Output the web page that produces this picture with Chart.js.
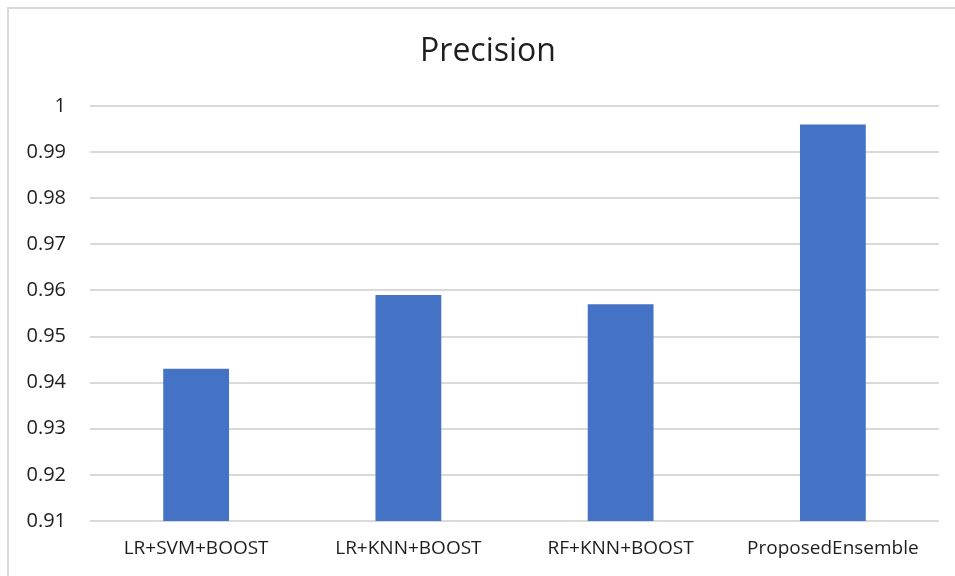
<!DOCTYPE html>
<html>
<head>
<meta charset="utf-8">
<script src="https://cdn.jsdelivr.net/npm/chart.js@4"></script>
<style>
  html, body { margin: 0; padding: 0; background: #fff; overflow: hidden; }
  #wrap { position: relative; width: 955px; height: 576px; }
  #frame {
    position: absolute; left: 7px; top: 7px; width: 962px; height: 580px;
    border: 2px solid #d9d9d9; box-sizing: border-box;
  }
  canvas { position: absolute; left: 0; top: 0; }
</style>
</head>
<body>
<div id="wrap">
  <div id="frame"></div>
  <canvas id="chart" width="955" height="576"></canvas>
</div>
<script>
  // Precision per model combination
  const models = ["LR+SVM+BOOST", "LR+KNN+BOOST", "RF+KNN+BOOST", "ProposedEnsemble"];
  const precision = [0.943, 0.959, 0.957, 0.996];
  const yMin = 0.91;
  const yMax = 1;
  const yStep = 0.01;

  const titleText = "Precision";
  const textColor = "#1e1e1e";
  const gridColor = "#d9d9d9";
  const fontFamily = "'Open Sans', 'Noto Sans', sans-serif";

  // title is centred on the framed box, not on the canvas
  const frameTitle = {
    id: "frameTitle",
    afterDraw(chart) {
      const c = chart.ctx;
      c.save();
      c.fillStyle = textColor;
      c.font = "32px " + fontFamily;
      c.textAlign = "center";
      c.textBaseline = "middle";
      c.fillText(titleText, 488, 52);
      c.restore();
    }
  };

  const ctx = document.getElementById("chart").getContext("2d");

  new Chart(ctx, {
    type: "bar",
    data: {
      labels: models,
      datasets: [
        {
          label: titleText,
          data: precision,
          backgroundColor: "#4472C4",
          barPercentage: 0.62,
          categoryPercentage: 0.5
        }
      ]
    },
    options: {
      responsive: false,
      animation: false,
      layout: { padding: { left: 0, right: 16, top: 106, bottom: 0 } },
      plugins: {
        legend: { display: false },
        tooltip: { enabled: false },
        title: { display: false }
      },
      scales: {
        x: {
          grid: { display: false, drawTicks: false },
          border: { display: false },
          ticks: {
            color: textColor,
            padding: 16,
            maxRotation: 0,
            font: { family: fontFamily, size: 19 }
          },
          afterFit: (scale) => { scale.height = 55; }
        },
        y: {
          min: yMin,
          max: yMax,
          grid: { color: gridColor, lineWidth: 2, drawTicks: false },
          border: { display: false },
          ticks: {
            stepSize: yStep,
            color: textColor,
            padding: 24,
            font: { family: fontFamily, size: 20 },
            callback: (v) => parseFloat(v.toFixed(2)).toString()
          },
          afterFit: (scale) => { scale.width = 90; }
        }
      }
    },
    plugins: [frameTitle]
  });
</script>
</body>
</html>
